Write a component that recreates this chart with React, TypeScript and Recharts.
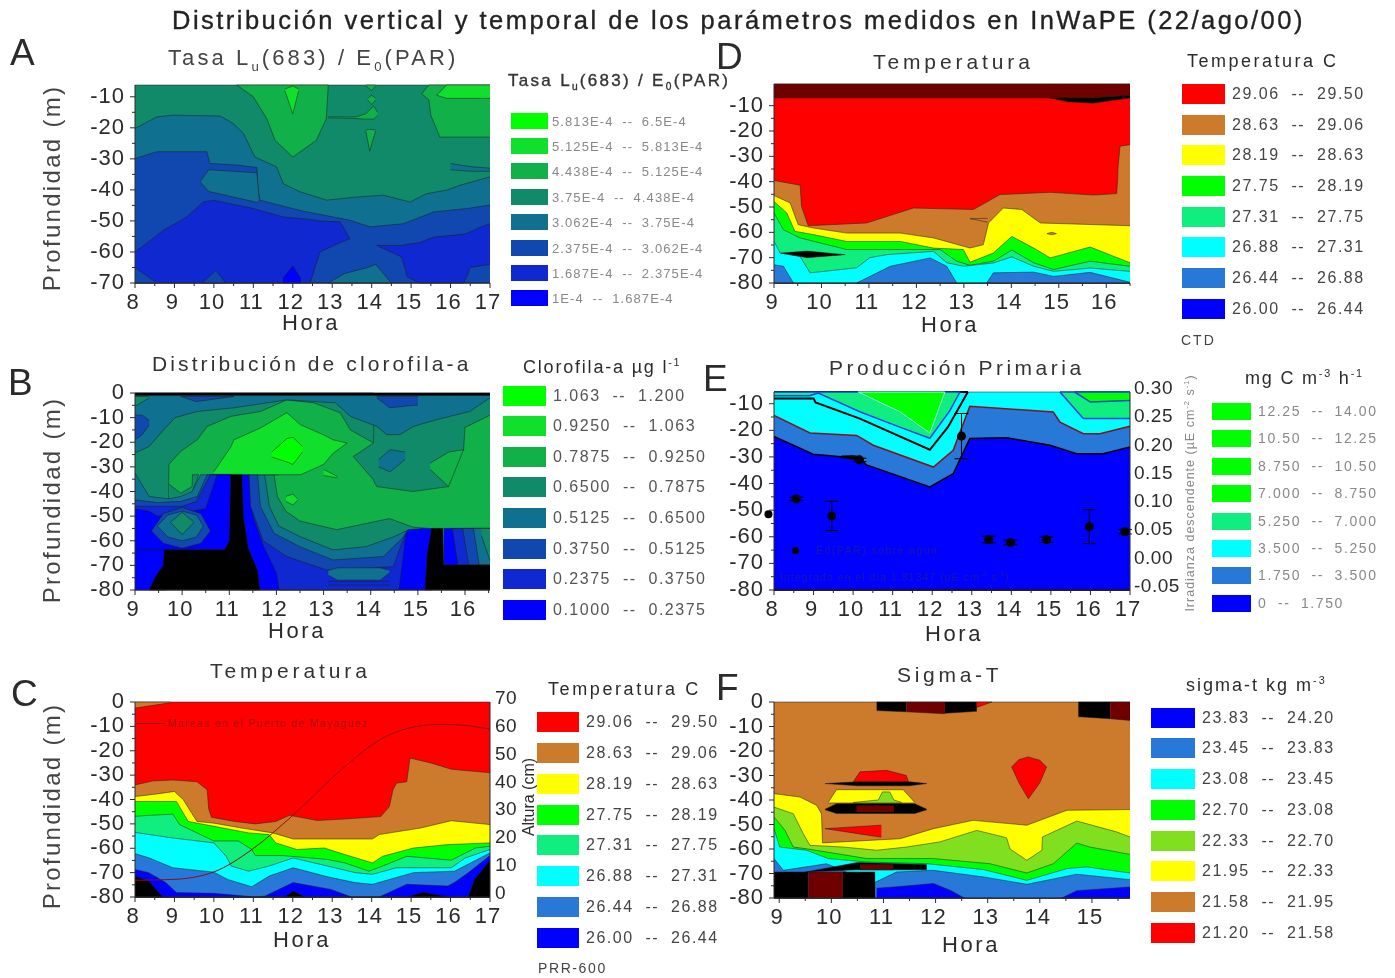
import React from "react";
import { ComposedChart, Area, Line, Scatter, ErrorBar, ReferenceDot, XAxis, YAxis } from "recharts";

const FONT = '"Liberation Sans", Arial, sans-serif';
const INK = "#2b2b2b";

const RED = "#ff0000";
const BROWN = "#cc7a2c";
const YELLOW = "#ffff00";
const LIME = "#80e020";
const GREEN = "#00ff00";
const MINT = "#10ee80";
const CYAN = "#00ffff";
const SKY = "#2878d8";
const BLUE = "#0000ff";
const BLACK = "#000000";
const MAROON = "#6e0000";
// green to blue ramp of panels A and B
const R1 = "#10e02c";
const R2 = "#12b048";
const R3 = "#108a68";
const R4 = "#107090";
const R5 = "#1048b0";
const R6 = "#1028d0";

type Band = { color: string; rows: { hour: number; range: number[] }[]; stroke?: string; strokeWidth?: number };

function band(color: string, hours: number[], top: number | number[], bottom: number | number[], stroke?: string, strokeWidth?: number): Band {
  const rows = hours.map((hour, i) => ({
    hour,
    range: [typeof bottom === "number" ? bottom : bottom[i], typeof top === "number" ? top : top[i]],
  }));
  return { color, rows, stroke, strokeWidth };
}

// ---------- Panel A ----------
const A_CEIL = -6.2;
const A_FLOOR = -70;
const A_UP_H = [10.58, 11, 11.34, 11.55, 12, 12.6, 12.85, 12.9];
const A_UP_B = [-6.2, -10, -17, -24, -29.4, -24, -17, -6.2];
const A_SPIKE_H = [11.8, 12, 12.15];
const A_SPIKE_T = [-7.5, -6.5, -7.5];
const A_SPIKE_B = [-8, -15.5, -8];
const A_STEM_H = [12.9, 13.6, 13.85, 14.05, 14.15];
const A_STEM_T = [-16.5, -16.5, -15.5, -13, -15];
const A_STEM_B = [-16.8, -17, -17.2, -17.2, -16];
const A_DOT1_H = [13.85, 14, 14.1];
const A_DOT1_T = [-6.2, -6.2, -6.2];
const A_DOT1_B = [-6.5, -8, -6.5];
const A_DOT2_H = [13.9, 14, 14.1];
const A_DOT2_T = [-10.5, -9.5, -10.5];
const A_DOT2_B = [-11, -12.5, -11];
const A_DOT3_H = [13.85, 13.95, 14.1];
const A_DOT3_T = [-20.7, -20.5, -20.7];
const A_DOT3_B = [-21, -27.5, -21];
const A_RIGHT_H = [15.27, 15.45, 15.5, 15.73, 17];
const A_RIGHT_T = [-9, -6.2, -6.2, -6.2, -6.2];
const A_RIGHT_B = [-9, -11, -16, -23, -23];
const A_BRIGHT_H = [15.65, 15.9, 17];
const A_BRIGHT_T = [-9.5, -6.2, -6.2];
const A_BRIGHT_B = [-9.5, -10.5, -10.5];
const A_TEAL_H = [8, 8.55, 8.97, 10.16, 10.49, 10.75, 11.04, 11.59, 11.76, 12.18, 12.86, 13.62, 14.3, 14.97, 15.4, 15.9, 16.24, 17];
const A_TEAL_T = [-20.2, -16.5, -15.9, -16.2, -18.6, -21.8, -29.4, -32.6, -38, -40.6, -43.3, -42.3, -41.7, -43.9, -41.2, -40.1, -38.5, -35.8];
const A_FINGER_H = [16, 16.5, 17];
const A_FINGER_T = [-31.5, -32.5, -33];
const A_FINGER_B = [-33.5, -34, -34];
const A_BLUE_H = [8, 8.55, 9.82, 9.9, 10.6, 11.09, 11.12, 11.17, 12.18, 13.45, 13.96, 14.8, 15.57, 16.41, 17];
const A_BLUE_T = [-29.9, -27.7, -27.7, -31.5, -32, -32.8, -40, -43.3, -46.6, -49.8, -51.9, -50.9, -47.1, -46, -44.9];
const A_WEDGE_H = [9.65, 9.87, 11.09, 11.15];
const A_WEDGE_T = [-37.4, -33.5, -34.5, -43];
const A_WEDGE_B = [-37.4, -40.5, -44, -43.5];
const A_LOBE_H = [8, 8.21, 8.72, 9.31, 9.73, 9.99, 11, 11.76, 12.44, 12.69, 13.2, 13.45];
const A_LOBE_T = [-60, -58, -53, -48.7, -43.9, -43.3, -46, -48.7, -49.5, -50, -50.3, -55.7];
const A_LOBE_B = [-70, -70, -70, -70, -70, -70, -70, -70, -70, -60, -57, -55.7];
const A_RLOBE_H = [14.13, 14.76, 14.9, 15.2, 15.57, 16.33, 16.41, 16.5, 16.75, 17];
const A_RLOBE_T = [-57.9, -57.9, -57.5, -57, -55.2, -54.3, -54, -53.5, -52, -50.9];
const A_RLOBE_B = [-57.9, -61.6, -68, -70, -70, -70, -68, -65, -64.5, -64];
const A_SPOT_H = [11.75, 12, 12.2];
const A_SPOT_T = [-68.5, -64.5, -68.5];
const A_PATCH_H = [8, 8.5];
const A_PATCH_T = [-65, -69.5];
const A_MID_H = [9.7, 10.05, 10.3];
const A_MID_T = [-70, -66, -70];
const A_FOOT_H = [12.9, 13.3, 13.9, 14.1, 14.5];
const A_FOOT_T = [-70, -67, -65, -64, -70];

const A_BANDS: Band[] = [
  band(R3, [8, 17], A_CEIL, A_FLOOR),
  band(R2, A_UP_H, A_CEIL, A_UP_B),
  band(R1, A_SPIKE_H, A_SPIKE_T, A_SPIKE_B),
  band(R2, A_STEM_H, A_STEM_T, A_STEM_B),
  band(R2, A_DOT1_H, A_DOT1_T, A_DOT1_B),
  band(R2, A_DOT2_H, A_DOT2_T, A_DOT2_B),
  band(R2, A_DOT3_H, A_DOT3_T, A_DOT3_B),
  band(R2, A_RIGHT_H, A_RIGHT_T, A_RIGHT_B),
  band(R1, A_BRIGHT_H, A_BRIGHT_T, A_BRIGHT_B),
  band(R4, A_TEAL_H, A_TEAL_T, A_FLOOR),
  band(R4, A_FINGER_H, A_FINGER_T, A_FINGER_B),
  band(R5, A_BLUE_H, A_BLUE_T, A_FLOOR),
  band(R4, A_WEDGE_H, A_WEDGE_T, A_WEDGE_B),
  band(R6, A_LOBE_H, A_LOBE_T, A_LOBE_B),
  band(R6, A_RLOBE_H, A_RLOBE_T, A_RLOBE_B),
  band(BLUE, A_SPOT_H, A_SPOT_T, A_FLOOR),
  band(R5, A_PATCH_H, A_PATCH_T, A_FLOOR),
  band(R5, A_MID_H, A_MID_T, A_FLOOR),
  band(R4, A_FOOT_H, A_FOOT_T, A_FLOOR),
];

// ---------- Panel B ----------
const B_FLOOR = -80;
const B_STACK_Q1_H = [9, 9.7, 9.72, 9.97, 10.32, 10.53, 11.03, 11.66, 12.22, 12.79, 13.35, 13.57, 14.06];
const B_STACK_Q1_B = [-60, -60, -29, -23.7, -19, -13.6, -9.5, -7.5, -2.8, -4, -8, -15, -20.3];
const B_RIGHT_H = [11.27, 15.3];
const B_C0_H = [11.41, 11.5, 11.72, 12, 12.06, 14.6, 14.76];
const B_C0_B = [-33.2, -50, -62, -73, -80, -80, -55];
const B_C1_H = [11.42, 11.45, 11.72, 12.22, 13.07, 14.48, 14.76];
const B_C1_B = [-33.2, -46, -60, -66.4, -71.9, -70.5, -55.6];
const B_C2_H = [11.6, 11.66, 11.95, 12.5, 13.2, 14.27, 14.7, 14.8];
const B_C2_B = [-33.2, -46, -57, -62.4, -67.8, -66.4, -58.3, -55];
const B_C3_H = [11.75, 11.85, 12.05, 12.5, 13.2, 13.9, 14.5, 14.8, 15.1];
const B_C3_B = [-33.2, -46, -54, -58.3, -63.7, -62.4, -58.3, -55.5, -55];
const B_TC_H = [11.95, 12.02, 12.2, 12.5, 13.28, 13.9, 14.4, 14.9, 15.26, 16.3, 16.53];
const B_TC_B = [-33.2, -42, -48, -52, -55.5, -53, -51, -54.5, -55, -55, -60];
const B_FOOT_H = [13.1, 13.3, 14.2, 14.4];
const B_FOOT_T = [-72, -71, -71, -72];
const B_FOOT_B = [-74, -76, -76, -73];
const B_PEN_H = [13.63, 14.06, 14.07, 14.13, 14.9, 15.65, 15.68, 15.97, 16, 16.53];
const B_PEN_T = [-25.8, -20.3, -1, -1, -1, -1, -1, -1, -1, -1];
const B_PEN_B = [-25.8, -35.3, -36, -38, -40, -38, -30, -23, -14, -9];
const B_NOOK_H = [15.26, 15.65, 15.97];
const B_NOOK_T = [-28.5, -24, -23];
const B_NOOK_B = [-31, -38, -23];
const B_CORE_H = [10.67, 11.03, 11.1, 11.66, 12.22, 12.51, 13, 13.2, 13.5];
const B_CORE_T = [-32, -22, -19, -14.2, -8, -12.9, -17, -19, -20.3];
const B_CORE_B = [-33, -33, -33, -33.2, -33.2, -33.2, -29, -24.5, -20.3];
const B_TAIL_H = [13, 13.3];
const B_TAIL_T = [-31, -34];
const B_TAIL_B = [-33.5, -34.5];
const B_HOT_H = [11.9, 12.22, 12.35, 12.55];
const B_HOT_T = [-24, -18.5, -18, -21.7];
const B_HOT_B = [-26, -28, -29, -24];
const B_DOT_H = [12.2, 12.35, 12.45];
const B_DOT_T = [-42, -41, -43];
const B_DOT_B = [-44, -45.5, -43.5];
const B_TOP_H = [9, 9.3, 9.61, 9.85, 10.32, 11.1, 12.22, 13.25, 13.57, 14.13, 14.34, 14.62, 14.9, 15.4, 16.1, 16.53];
const B_TOP_B = [-24.4, -21.7, -14.9, -10, -7.5, -6, -2.8, -4, -9.5, -13.6, -16.9, -16.9, -13.6, -10.8, -7.5, -2];
const B_CORNER_H = [9, 9.3];
const B_CORNER_B = [-5.4, -2];
const B_TONGUE_H = [9, 9.15, 9.3];
const B_TONGUE_T = [-9, -9, -11];
const B_TONGUE_B = [-19, -17, -13];
const B_CAP1_H = [9.97, 10.3, 11.1];
const B_CAP1_B = [-1.4, -3.5, -1.4];
const B_CAP2_H = [14.13, 14.4, 14.9, 15];
const B_CAP2_B = [-2, -6, -5, -5];
const B_INNER_H = [14.17, 14.41, 14.73];
const B_INNER_T = [-27, -23, -24];
const B_INNER_B = [-30, -32, -27];
const B_L1_H = [9, 9.3, 9.72, 9.97, 10.21, 10.39, 11.03];
const B_L1_T = [-32.5, -42, -43, -42, -40, -33.2, -33.2];
const B_GAP_H = [9.72, 9.97, 10.21, 10.22, 10.35];
const B_GAP_T = [-37, -40.7, -38, -33.2, -33.2];
const B_GAP_B = [-43, -44, -42, -40, -33.2];
const B_L2_H = [9, 9.47, 9.97, 10.32, 10.53, 11.03];
const B_L2_T = [-43.4, -44.5, -44, -42, -33.2, -33.2];
const B_L3_H = [9, 9.6, 10, 10.3, 10.6, 11.03];
const B_L3_T = [-46, -46, -46, -44, -33.2, -33.2];
const B_L4_H = [9, 9.3, 9.47, 10.5, 10.74, 11.03];
const B_L4_T = [-47, -48, -50, -47, -33.2, -33.2];
const B_RING_H = [9.35, 9.6, 10, 10.4, 10.6];
const B_RING_T = [-56, -49, -46.5, -49, -56];
const B_RING_B = [-56, -61, -63, -61, -56];
const B_RING2_H = [9.47, 9.7, 10, 10.3, 10.45];
const B_RING2_T = [-54, -49.5, -48, -49.5, -54];
const B_RING2_B = [-54, -58.5, -60, -58.5, -54];
const B_SPOT_H = [9.75, 10, 10.25];
const B_SPOT_T = [-52.5, -48.5, -52.5];
const B_SPOT_B = [-52.5, -57.5, -52.5];
const B_SPINE_H = [9.3, 9.45, 9.6, 9.62, 10.9, 11, 11.03, 11.27, 11.3, 11.4, 11.6, 11.65];
const B_SPINE_T = [-80, -74, -70, -63.7, -63.7, -60, -33.2, -33.2, -50, -63, -72, -80];
const B_LOW_H = [9, 9.65];
const B_RIB_H = [15.55, 16.53];
const B_RIB1_H = [15.73, 15.85, 16.53];
const B_RIB2_H = [15.95, 16.08, 16.53];
const B_RIB3_H = [16.18, 16.3, 16.53];
const B_RIB4_H = [16.35, 16.53];
const B_RIB_B = [-55, -69.8, -69.8];
const B_BLOCK_H = [15.15, 15.2, 15.29, 15.53, 15.55, 16.53];
const B_BLOCK_T = [-80, -65, -55, -55, -69.8, -69.8];

const B_BANDS: Band[] = [
  band(R2, [9, 16.53], 0, B_FLOOR),
  band(BLUE, B_RIGHT_H, -33.2, B_FLOOR),
  band(R6, B_C0_H, -33.2, B_C0_B),
  band(R5, B_C1_H, -33.2, B_C1_B),
  band(R6, B_FOOT_H, -76.5, -78),
  band(R4, B_FOOT_H, B_FOOT_T, B_FOOT_B),
  band(R4, B_C2_H, -33.2, B_C2_B),
  band(R3, B_C3_H, -33.2, B_C3_B),
  band(R2, B_TC_H, -33.2, B_TC_B),
  band(R2, [12.05, 16.53], -32.5, -34, "none"),
  band(R3, B_STACK_Q1_H, 0, B_STACK_Q1_B),
  band(R3, B_PEN_H, B_PEN_T, B_PEN_B),
  band(R2, B_NOOK_H, B_NOOK_T, B_NOOK_B),
  band(R1, B_CORE_H, B_CORE_T, B_CORE_B),
  band(R1, B_TAIL_H, B_TAIL_T, B_TAIL_B),
  band(GREEN, B_HOT_H, B_HOT_T, B_HOT_B),
  band(R1, B_DOT_H, B_DOT_T, B_DOT_B),
  band(R4, B_TOP_H, -1, B_TOP_B),
  band(R3, B_CORNER_H, -1.4, B_CORNER_B),
  band(R5, B_TONGUE_H, B_TONGUE_T, B_TONGUE_B),
  band(R5, B_CAP1_H, -1.4, B_CAP1_B),
  band(R5, B_CAP2_H, -1.4, B_CAP2_B),
  band(R4, B_INNER_H, B_INNER_T, B_INNER_B),
  band(R3, B_GAP_H, B_GAP_T, B_GAP_B),
  band(R4, B_L1_H, B_L1_T, -63.7),
  band(R5, B_L2_H, B_L2_T, -63.7),
  band(R6, B_L3_H, B_L3_T, -63.7),
  band(BLUE, B_L4_H, B_L4_T, -63.7),
  band(BLUE, B_LOW_H, -63.7, B_FLOOR),
  band(R5, B_RING_H, B_RING_T, B_RING_B),
  band(R4, B_RING2_H, B_RING2_T, B_RING2_B),
  band(R3, B_SPOT_H, B_SPOT_T, B_SPOT_B),
  band(BLACK, B_SPINE_H, B_SPINE_T, B_FLOOR),
  band(BLUE, B_RIB_H, -55, -69.8),
  band(R6, B_RIB1_H, -55, B_RIB_B),
  band(R5, B_RIB2_H, -55, B_RIB_B),
  band(R4, B_RIB3_H, -55, B_RIB_B),
  band(R3, B_RIB4_H, -55, [-58, -68]),
  band(BLACK, B_BLOCK_H, B_BLOCK_T, B_FLOOR),
  band(BLACK, [9, 16.53], 0, -0.9),
];

// ---------- Panel C ----------
const C_FLOOR = -80;
const C_BROWN_H = [8, 8.44, 8.96, 9.57, 9.83, 9.87, 9.94, 10.53, 11.05, 11.57, 11.92, 12.62, 13.32, 14.23, 14.45, 14.54, 14.63, 14.89, 14.97, 15.5, 16.02, 17];
const C_BROWN_T = [-34, -32.4, -32, -32.7, -36, -44, -47.3, -49, -50, -49, -46.5, -48.6, -48, -47, -42.9, -36, -33.3, -32.7, -23, -25, -27.6, -29];
const C_SLIVER_H = [8, 8.9];
const C_SLIVER_B = [-2.5, -0.3];
const C_YELLOW_H = [8, 8.52, 9, 9.22, 9.57, 10, 10.7, 11.49, 12.01, 14.02, 14.19, 15.24, 16.02, 17];
const C_YELLOW_T = [-38.8, -37.8, -36.7, -40, -49, -49.7, -51.7, -53.7, -56.2, -56.2, -54.4, -51.7, -48.7, -50.3];
const C_GREEN_H = [8, 9.05, 9.35, 10, 10.88, 11.4, 11.57, 12.1, 12.8, 13.32, 14.02, 14.28, 15.06, 15.93, 17];
const C_GREEN_T = [-40.8, -40.8, -49, -51, -53.7, -54.4, -57.8, -60.5, -59.9, -62.6, -66, -63.3, -59.9, -58.5, -57.8];
const C_MINT_H = [8, 8.35, 8.96, 9.13, 10, 10.62, 10.96, 11.05, 11.75, 12.1, 12.88, 13.32, 13.93, 14.28, 14.89, 16.02, 16.63, 17];
const C_MINT_T = [-46.9, -46.5, -46, -50.3, -57, -57, -60.5, -63, -63, -63.5, -64.6, -66, -69.4, -67.3, -63.3, -64.9, -59.9, -59.2];
const C_CYAN_H = [8, 8.96, 10, 10.31, 10.44, 10.88, 11.4, 12.01, 12.88, 13.58, 14.02, 14.63, 16.02, 16.37, 17];
const C_CYAN_T = [-53.5, -55.8, -57.8, -63.3, -67.3, -69.4, -67.3, -64, -67.3, -70, -70.7, -68, -68, -64, -60.5];
const C_SKY_H = [8, 8.35, 8.96, 10, 10.35, 10.96, 11.4, 12.01, 12.88, 13.58, 14.02, 15.06, 16.1, 17];
const C_SKY_T = [-62.2, -63.9, -68, -69.8, -72.8, -75.8, -71.4, -68, -71.7, -74.1, -74.8, -70, -69.4, -61.9];
const C_BLUE_H = [8, 8.35, 8.78, 9.05, 10, 11.05, 11.3, 12.01, 12.97, 13.49, 14.19, 14.89, 15.93, 16.1, 16.45, 17];
const C_BLUE_T = [-68.7, -70, -74.1, -78.2, -78.5, -80, -79.6, -74.1, -76.9, -80, -80, -74.8, -75.5, -74, -70, -63];
const C_BLK1_H = [8, 8.35, 8.7];
const C_BLK1_T = [-71.4, -73.5, -80];
const C_BLK2_H = [11.8, 12.01, 12.3];
const C_BLK2_T = [-80, -77.5, -80];
const C_BLK3_H = [16.45, 16.6, 17];
const C_BLK3_T = [-80, -73, -65];
const C_BLK4_H = [14.9, 15.3, 15.95];
const C_BLK4_T = [-80, -78, -80];
// tide at the Mayaguez port, right axis (cm)
const C_TIDE_H = [8, 8.96, 10, 10.96, 12, 13.32, 14.19, 15.06, 15.76, 16.37, 17];
const C_TIDE = [6, 6.3, 9, 17, 29.3, 46.8, 56.3, 61, 62, 61.6, 60.2];

const C_BANDS: Band[] = [
  band(RED, [8, 17], 0, C_FLOOR),
  band(BROWN, C_SLIVER_H, 0, C_SLIVER_B),
  band(BROWN, C_BROWN_H, C_BROWN_T, C_FLOOR),
  band(YELLOW, C_YELLOW_H, C_YELLOW_T, C_FLOOR),
  band(GREEN, C_GREEN_H, C_GREEN_T, C_FLOOR),
  band(MINT, C_MINT_H, C_MINT_T, C_FLOOR),
  band(CYAN, C_CYAN_H, C_CYAN_T, C_FLOOR),
  band(SKY, C_SKY_H, C_SKY_T, C_FLOOR),
  band(BLUE, C_BLUE_H, C_BLUE_T, C_FLOOR),
  band(BLACK, C_BLK1_H, C_BLK1_T, C_FLOOR),
  band(BLACK, C_BLK2_H, C_BLK2_T, C_FLOOR),
  band(BLACK, C_BLK3_H, C_BLK3_T, C_FLOOR),
  band(BLACK, C_BLK4_H, C_BLK4_T, C_FLOOR),
];

// ---------- Panel D ----------
const D_CEIL = -1.45;
const D_FLOOR = -80;
const D_CAP_H = [9, 14.82, 15.2, 15.73, 16.1, 16.5];
const D_CAP_B = [-7, -7, -7, -7, -6.5, -6];
const D_CAPB_H = [14.82, 15.2, 15.73, 16.1, 16.5];
const D_CAPB_T = [-7, -7, -7, -6.5, -6];
const D_CAPB_B = [-7, -8.5, -9, -8, -7];
const D_BROWN_H = [9, 9.55, 9.58, 9.72, 10.95, 11.94, 13.2, 13.76, 14.82, 15.73, 16.22, 16.24, 16.25, 16.29, 16.5];
const D_BROWN_T = [-39.5, -41.4, -49.7, -57.4, -56.3, -50.4, -51, -45.1, -44.2, -45.3, -44.7, -39, -34, -26, -25.4];
const D_YELLOW_H = [9, 9.34, 9.51, 9.83, 10.53, 11.66, 12.36, 13.13, 13.41, 13.52, 13.83, 14.22, 14.61, 16.5];
const D_YELLOW_T = [-45.5, -48.4, -57, -58.3, -60.3, -60.3, -62.2, -66.2, -64.9, -56.3, -50.4, -51, -56.3, -57.4];
const D_WEDGE_H = [13.13, 13.5];
const D_WEDGE_T = [-54.6, -54.5];
const D_WEDGE_B = [-54.6, -56];
const D_DOT_H = [14.75, 14.85, 14.95];
const D_DOT_T = [-60.5, -60, -60.5];
const D_DOT_B = [-60.5, -61, -60.5];
const D_GREEN_H = [9, 9.27, 9.44, 9.83, 10.53, 11.66, 12.36, 12.99, 13.13, 13.62, 14.01, 14.47, 14.82, 15.66, 16.5];
const D_GREEN_T = [-47.8, -52.4, -59.6, -60.9, -63.6, -63.6, -66.2, -66.8, -71.8, -68.2, -61.6, -66.2, -70.1, -65.8, -72];
const D_MINT_H = [9, 9.2, 9.55, 10.53, 11.66, 12.5, 12.85, 13.13, 13.62, 14.01, 14.47, 14.89, 15.66, 16.5];
const D_MINT_T = [-52.4, -59, -62.2, -66.8, -66.8, -66.8, -71.4, -73, -71.4, -67, -72, -74.7, -71.4, -73.4];
const D_CYAN_H = [9, 9.13, 9.55, 9.76, 10.74, 11.02, 11.38, 12.36, 12.64, 12.99, 13.62, 14.01, 14.47, 14.89, 15.66, 16.5];
const D_CYAN_T = [-63.5, -68.2, -69.5, -76, -74, -70, -68.8, -67.5, -72, -73.4, -72.1, -69.7, -73.4, -75.4, -74.1, -75.4];
const D_LENS_H = [9.15, 9.7, 10.5];
const D_LENS_T = [-68.2, -67.4, -68.8];
const D_LENS_B = [-68.2, -70, -68.8];
const D_SKY1_H = [9, 9.2, 9.41];
const D_SKY1_T = [-72.8, -73.4, -80];
const D_SKY2_H = [10.74, 11.45, 12.29, 12.64, 12.85];
const D_SKY2_T = [-80, -73.4, -70.1, -73.4, -80];
const D_SKY3_H = [13.48, 13.62, 14.47, 14.89, 15.66, 16.5];
const D_SKY3_T = [-80, -76, -75.7, -77.4, -75.8, -79.7];

const D_BANDS: Band[] = [
  band(RED, [9, 16.5], D_CEIL, D_FLOOR),
  band(MAROON, D_CAP_H, D_CEIL, D_CAP_B),
  band(BLACK, D_CAPB_H, D_CAPB_T, D_CAPB_B),
  band(BROWN, D_BROWN_H, D_BROWN_T, D_FLOOR),
  band(YELLOW, D_YELLOW_H, D_YELLOW_T, D_FLOOR),
  band(BROWN, D_WEDGE_H, D_WEDGE_T, D_WEDGE_B),
  band(BROWN, D_DOT_H, D_DOT_T, D_DOT_B),
  band(GREEN, D_GREEN_H, D_GREEN_T, D_FLOOR),
  band(MINT, D_MINT_H, D_MINT_T, D_FLOOR),
  band(CYAN, D_CYAN_H, D_CYAN_T, D_FLOOR),
  band(BLACK, D_LENS_H, D_LENS_T, D_LENS_B),
  band(SKY, D_SKY1_H, D_SKY1_T, D_FLOOR),
  band(SKY, D_SKY2_H, D_SKY2_T, D_FLOOR),
  band(SKY, D_SKY3_H, D_SKY3_T, D_FLOOR),
];

// ---------- Panel E ----------
const E_CEIL = -5.6;
const E_FLOOR = -80;
const E_V1_H = [8, 9, 9.05, 10.17, 11.94, 12.4, 12.9];
const E_V1_B = [-8, -8, -9.5, -15.6, -27.3, -18.75, -5.6];
const E_V2_H = [8, 8.9, 9.12, 10.17, 11.18, 11.94, 12.45, 12.7];
const E_V2_B = [-7, -7, -6, -13, -18.8, -23, -12.5, -5.6];
const E_V3_H = [10.13, 11.18, 11.94, 12.32];
const E_V3_B = [-5.6, -13, -21, -5.6];
const E_R1_H = [15.23, 15.82, 17];
const E_R1_B = [-5.6, -15.6, -15.6];
const E_R2_H = [15.6, 16, 17];
const E_R2_B = [-5.6, -9.4, -8.75];
const E_SKY_H = [8, 8.91, 10.09, 10.51, 12.03, 12.53, 12.95, 15.06, 15.23, 15.82, 16.24, 17];
const E_SKY_T = [-14.4, -21, -21.9, -25.6, -33.8, -27.5, -11, -13.1, -16.9, -21.3, -21.3, -18.5];
const E_BLUE_H = [8, 8.99, 10.17, 10.34, 11.94, 12.53, 12.95, 13.88, 14.98, 15.65, 16.32, 17];
const E_BLUE_T = [-22.3, -29, -30.6, -33, -41.3, -36.3, -23.1, -22.8, -25.6, -28.8, -28.8, -26.3];
const E_BLOB_H = [9.7, 10, 10.2];
const E_BLOB_T = [-29.6, -29.4, -29.8];
const E_BLOB_B = [-30.4, -31, -31.6];
// irradiance over water, right axis
const E_PT_H = [8.56, 9.46, 10.16, 12.74, 13.43, 13.98, 14.89, 15.97, 16.87];
const E_PT_IRR = [0.111, 0.081, 0.18, 0.222, 0.039, 0.034, 0.039, 0.062, 0.053];
const E_PT_ERR = [0.003, 0.026, 0.003, 0.04, 0.006, 0.004, 0.005, 0.03, 0.004];
// this reading sits just left of the 8 h axis line in the reference
const E_EARLY_H = 7.86;
const E_EARLY_IRR = 0.084;

const E_BANDS: Band[] = [
  band(CYAN, [8, 17], E_CEIL, E_FLOOR),
  band(CYAN, E_V1_H, E_CEIL, E_V1_B, BLACK, 2),
  band(MINT, E_V2_H, E_CEIL, E_V2_B, "#2040e0", 1.5),
  band(GREEN, E_V3_H, E_CEIL, E_V3_B, "#90ffe0", 1),
  band(MINT, E_R1_H, E_CEIL, E_R1_B, "#2040e0", 1.5),
  band(GREEN, E_R2_H, E_CEIL, E_R2_B, "#2040e0", 1.5),
  band(SKY, E_SKY_H, E_SKY_T, E_FLOOR, "#8a1020", 1.5),
  band(BLUE, E_BLUE_H, E_BLUE_T, E_FLOOR, BLACK, 1.5),
  band(BLACK, E_BLOB_H, E_BLOB_T, E_BLOB_B),
];

// ---------- Panel F ----------
const F_FLOOR = -80;
const F_YELLOW_H = [8.9, 9.4, 9.72, 9.81, 9.82, 9.83, 11.32, 11.96, 12.72, 13.75, 14.52, 15.73];
const F_YELLOW_T = [-37.4, -38.8, -42.2, -45.6, -51, -57.5, -55.8, -51.7, -48.3, -50.3, -44.2, -43.9];
const F_LIME_H = [8.9, 9.27, 9.46, 9.59, 10.23, 10.87, 11.44, 12.08, 12.79, 13.36, 13.43, 13.75, 14.04, 14.05, 14.71, 15.47, 15.73];
const F_LIME_T = [-42.9, -45.6, -53.7, -58.5, -59.2, -60.5, -59.2, -57.1, -52.4, -55.4, -60, -64.6, -60.5, -55.1, -48.6, -53, -55.1];
const F_GREEN_H = [8.9, 9.11, 9.27, 9.52, 10.68, 11.96, 13.04, 13.75, 14.26, 14.71, 14.96, 15.73];
const F_GREEN_T = [-46.9, -52.4, -59.2, -59.9, -63.9, -63.9, -66, -69.8, -66, -57.6, -59.2, -62.2];
const F_CYAN_H = [8.9, 9.01, 9.52, 9.94, 10.68, 11.83, 12.92, 13.75, 14.52, 14.9, 15.73];
const F_CYAN_T = [-51.7, -59.2, -60.5, -63.9, -65.3, -66, -68.4, -72.8, -68, -67.3, -69.8];
const F_SKY_H = [8.9, 9.08, 9.91, 10.8, 11.25, 11.96, 12.92, 13.75, 14.71, 15.73];
const F_SKY_T = [-63.9, -68.7, -66, -74, -69.4, -68.7, -71.4, -74.4, -70.3, -72.5];
const F_DEEP1_H = [10.87, 11.2, 11.96, 12.3, 12.55];
const F_DEEP1_T = [-76, -75.5, -74.1, -77, -80];
const F_DEEP2_H = [14.42, 14.71, 15.73];
const F_DEEP2_T = [-80, -77, -75.5];
const F_TOPA_H = [10.87, 11.44];
const F_TOPA_B = [-3.5, -4];
const F_TOPB_H = [11.44, 12.18];
const F_TOPB_B = [-4, -4.8];
const F_TOPC_H = [12.18, 12.79];
const F_TOPC_B = [-4.6, -3.8];
const F_TOPD_H = [12.79, 13.08];
const F_TOPD_B = [-2.2, 0];
const F_TOPE_H = [14.74, 15.35];
const F_TOPE_B = [-6, -6.8];
const F_TOPF_H = [15.35, 15.73];
const F_TOPF_B = [-6.8, -7.5];
const F_SL_H = [9.5, 10.5, 11.83];
const F_SL_T = [-69.4, -65.5, -66.3];
const F_SL_B = [-69.4, -68.5, -68.5];
const F_SLR_H = [10.55, 11.19];
const F_LENS_H = [10.42, 10.55, 11.06, 11.44, 11.48];
const F_LENS_T = [-32.6, -28.5, -27.9, -30, -32.6];
const F_BL1_H = [9.88, 10.5, 11.5, 11.83];
const F_BL1_T = [-33.3, -32.6, -32.6, -33.3];
const F_BL1_B = [-33.3, -34.2, -34.2, -33.3];
const F_TRAP_H = [9.94, 10.1, 11.38, 11.6];
const F_TRAP_T = [-41, -35.8, -35.8, -41];
const F_SPIKE_H = [10.42, 10.9, 10.98, 11.12, 11.2, 11.35];
const F_SPIKE_T = [-41, -40, -36.7, -36.7, -40, -41];
const F_BL2_H = [9.88, 10.1, 11.6, 11.83];
const F_BL2_T = [-43.8, -41.5, -41.5, -43.8];
const F_BL2_B = [-44, -45.5, -45.5, -44];
const F_BL2R_H = [10.48, 11.2];
const F_TAIL_H = [9.88, 10.93, 10.96];
const F_TAIL_T = [-51.7, -50.3, -50.3];
const F_TAIL_B = [-51.7, -55.1, -55.1];
const F_DROP_H = [13.46, 13.6, 13.78, 14, 14.13];
const F_DROP_T = [-26.5, -23.5, -22.4, -23.8, -26.5];
const F_DROP_B = [-26.5, -33, -39.5, -33, -26.5];

const F_BANDS: Band[] = [
  band(BROWN, [8.9, 15.73], 0, F_FLOOR),
  band(YELLOW, F_YELLOW_H, F_YELLOW_T, F_FLOOR),
  band(LIME, F_LIME_H, F_LIME_T, F_FLOOR),
  band(GREEN, F_GREEN_H, F_GREEN_T, F_FLOOR),
  band(CYAN, F_CYAN_H, F_CYAN_T, F_FLOOR),
  band(SKY, F_SKY_H, F_SKY_T, F_FLOOR),
  band(BLUE, F_DEEP1_H, F_DEEP1_T, F_FLOOR),
  band(BLUE, F_DEEP2_H, F_DEEP2_T, F_FLOOR),
  band(BLACK, F_TOPA_H, 0, F_TOPA_B),
  band(MAROON, F_TOPB_H, 0, F_TOPB_B),
  band(BLACK, F_TOPC_H, 0, F_TOPC_B),
  band(RED, F_TOPD_H, 0, F_TOPD_B),
  band(BLACK, F_TOPE_H, 0, F_TOPE_B),
  band(MAROON, F_TOPF_H, 0, F_TOPF_B),
  band(BLACK, F_SL_H, F_SL_T, F_SL_B),
  band(MAROON, F_SLR_H, -66.2, -68.5),
  band(BLACK, [8.9, 9.56], -69.4, F_FLOOR),
  band(MAROON, [9.56, 10.22], -69.4, F_FLOOR),
  band(BLACK, [10.22, 10.84], -69.4, F_FLOOR),
  band(RED, F_LENS_H, F_LENS_T, -32.6),
  band(BLACK, F_BL1_H, F_BL1_T, F_BL1_B),
  band(YELLOW, F_TRAP_H, F_TRAP_T, -41.2),
  band(LIME, F_SPIKE_H, F_SPIKE_T, -41.2),
  band(BLACK, F_BL2_H, F_BL2_T, F_BL2_B),
  band(MAROON, F_BL2R_H, -42.2, -44.9),
  band(RED, F_TAIL_H, F_TAIL_T, F_TAIL_B),
  band(RED, F_DROP_H, F_DROP_T, F_DROP_B),
];

// ---------- Legends ----------
const RAMP_COLORS = [GREEN, R1, R2, R3, R4, R5, R6, BLUE];
const TEMP_COLORS = [RED, BROWN, YELLOW, GREEN, MINT, CYAN, SKY, BLUE];
const PROD_COLORS = [GREEN, GREEN, GREEN, GREEN, MINT, CYAN, SKY, BLUE];
const SIGMA_COLORS = [BLUE, SKY, CYAN, GREEN, LIME, YELLOW, BROWN, RED];
const A_LABELS = ["5.813E-4 -- 6.5E-4", "5.125E-4 -- 5.813E-4", "4.438E-4 -- 5.125E-4", "3.75E-4 -- 4.438E-4", "3.062E-4 -- 3.75E-4", "2.375E-4 -- 3.062E-4", "1.687E-4 -- 2.375E-4", "1E-4 -- 1.687E-4"];
const B_LABELS = ["1.063 -- 1.200", "0.9250 -- 1.063", "0.7875 -- 0.9250", "0.6500 -- 0.7875", "0.5125 -- 0.6500", "0.3750 -- 0.5125", "0.2375 -- 0.3750", "0.1000 -- 0.2375"];
const TEMP_LABELS = ["29.06 -- 29.50", "28.63 -- 29.06", "28.19 -- 28.63", "27.75 -- 28.19", "27.31 -- 27.75", "26.88 -- 27.31", "26.44 -- 26.88", "26.00 -- 26.44"];
const E_LABELS = ["12.25 -- 14.00", "10.50 -- 12.25", "8.750 -- 10.50", "7.000 -- 8.750", "5.250 -- 7.000", "3.500 -- 5.250", "1.750 -- 3.500", "0 -- 1.750"];
const F_LABELS = ["23.83 -- 24.20", "23.45 -- 23.83", "23.08 -- 23.45", "22.70 -- 23.08", "22.33 -- 22.70", "21.95 -- 22.33", "21.58 -- 21.95", "21.20 -- 21.58"];

const HOURS_8_17 = [8, 8.5, 9, 9.5, 10, 10.5, 11, 11.5, 12, 12.5, 13, 13.5, 14, 14.5, 15, 15.5, 16, 16.5, 17];
const HOURS_9_16 = [9, 9.5, 10, 10.5, 11, 11.5, 12, 12.5, 13, 13.5, 14, 14.5, 15, 15.5, 16, 16.5];
const HOURS_9_15 = [9, 9.5, 10, 10.5, 11, 11.5, 12, 12.5, 13, 13.5, 14, 14.5, 15, 15.5];
const DEPTHS_70 = [-70, -65, -60, -55, -50, -45, -40, -35, -30, -25, -20, -15, -10];
const DEPTHS_80 = [-80, -75, -70, -65, -60, -55, -50, -45, -40, -35, -30, -25, -20, -15, -10, -5, 0];
const DEPTHS_80_10 = [-80, -75, -70, -65, -60, -55, -50, -45, -40, -35, -30, -25, -20, -15, -10];
const TIDE_TICKS = [0, 10, 20, 30, 40, 50, 60, 70];
const IRR_TICKS = [-0.05, 0, 0.05, 0.1, 0.15, 0.2, 0.25, 0.3];

function XTick({ x, y, payload }: any) {
  const major = Number.isInteger(payload.value);
  return (
    <g>
      <line x1={x} x2={x} y1={y} y2={y + (major ? 5 : 3)} stroke={INK} strokeWidth={1} />
      {major && (
        <text x={x - 2} y={y + 26} textAnchor="middle" fontSize={22} fontFamily={FONT} fill={INK} letterSpacing={1}>
          {payload.value}
        </text>
      )}
    </g>
  );
}

function YTick({ x, y, payload }: any) {
  const major = payload.value % 10 === 0;
  return (
    <g>
      <line x1={x} x2={x - (major ? 5 : 3)} y1={y} y2={y} stroke={INK} strokeWidth={1} />
      {major && (
        <text x={x - 10} y={y + 6} textAnchor="end" fontSize={22} fontFamily={FONT} fill={INK} letterSpacing={1}>
          {payload.value}
        </text>
      )}
    </g>
  );
}

function RightTick({ x, y, payload }: any) {
  return (
    <text x={x + 5} y={y + 2} textAnchor="start" fontSize={19} fontFamily={FONT} fill={INK} letterSpacing={0.5}>
      {payload.value}
    </text>
  );
}

function IrrTick({ x, y, payload }: any) {
  return (
    <text x={x + 4} y={y + 2} textAnchor="start" fontSize={19} fontFamily={FONT} fill={INK} letterSpacing={0.5}>
      {payload.value.toFixed(2)}
    </text>
  );
}

type PanelProps = {
  left: number;
  top: number;
  width: number;
  height: number;
  xDomain: number[];
  yDomain: number[];
  xTicks: number[];
  yTicks: number[];
  bands: Band[];
  rightDomain?: number[];
  rightTicks?: number[];
  rightTick?: any;
  rightKey?: string;
  children?: React.ReactNode;
};

function Panel({ left, top, width, height, xDomain, yDomain, xTicks, yTicks, bands, rightDomain, rightTicks, rightTick, rightKey, children }: PanelProps) {
  const hasRight = !!rightDomain;
  return (
    <div style={{ position: "absolute", left: left - 80, top: top - 20 }}>
      <ComposedChart
        width={width + 140}
        height={height + 70}
        margin={{ top: 20, right: hasRight ? 0 : 60, bottom: 10, left: 0 }}
      >
        <XAxis
          type="number"
          dataKey="hour"
          domain={xDomain}
          ticks={xTicks}
          interval={0}
          tick={<XTick />}
          tickSize={0}
          tickMargin={0}
          tickLine={false}
          height={40}
          stroke={INK}
        />
        <YAxis
          type="number"
          yAxisId="left"
          domain={yDomain}
          ticks={yTicks}
          interval={0}
          tick={<YTick />}
          tickSize={0}
          tickMargin={0}
          tickLine={false}
          width={80}
          stroke={INK}
        />
        {hasRight && (
          <YAxis
            type="number"
            yAxisId="right"
            orientation="right"
            dataKey={rightKey}
            domain={rightDomain}
            ticks={rightTicks}
            interval={0}
            tick={rightTick}
            tickSize={0}
            tickMargin={0}
            tickLine={false}
            width={60}
            stroke={INK}
          />
        )}
        {bands.map((b, i) => (
          <Area
            key={i}
            yAxisId="left"
            data={b.rows}
            dataKey="range"
            type="linear"
            fill={b.color}
            fillOpacity={1}
            stroke={b.stroke ?? "#1a1a1a"}
            strokeWidth={b.strokeWidth ?? 0.7}
            strokeOpacity={b.stroke ? 1 : 0.7}
            dot={false}
            activeDot={false}
            isAnimationActive={false}
          />
        ))}
        {children}
      </ComposedChart>
    </div>
  );
}

function Txt({ x, y, size, children, color = INK, spacing = 0, wordSpacing = 0, heavy = false, rotate }: any) {
  return (
    <div
      style={{
        position: "absolute",
        left: x,
        top: y,
        fontSize: size,
        lineHeight: 1,
        color,
        letterSpacing: spacing,
        wordSpacing,
        WebkitTextStroke: heavy ? "0.35px" : undefined,
        whiteSpace: "nowrap",
        transform: rotate ? "translate(-50%,-50%) rotate(-90deg)" : "translateY(-50%)",
      }}
    >
      {children}
    </div>
  );
}

function Key({ colors, labels, rows, x, w, h, textX, size, color, spacing, wordSpacing }: any) {
  return (
    <>
      {labels.map((label: string, i: number) => (
        <React.Fragment key={label}>
          <div style={{ position: "absolute", left: x, top: rows[i] - h / 2, width: w, height: h, background: colors[i] }} />
          <Txt x={textX} y={rows[i]} size={size} color={color} spacing={spacing} wordSpacing={wordSpacing}>
            {label}
          </Txt>
        </React.Fragment>
      ))}
    </>
  );
}

const tideRows = C_TIDE_H.map((hour, i) => ({ hour, tide: C_TIDE[i] }));
const irrRows = E_PT_H.map((hour, i) => ({ hour, irr: E_PT_IRR[i], err: E_PT_ERR[i] }));
const smallSub = { fontSize: "0.6em" };

export default function App() {
  return (
    <div style={{ position: "absolute", left: 0, top: 0, width: 1395, height: 978, background: "#fff", fontFamily: FONT, overflow: "hidden", filter: "blur(0.5px)" }}>
      <Txt x={172} y={21} size={25.5} spacing={2.48} color="#222" heavy>
        Distribución vertical y temporal de los parámetros medidos en InWaPE (22/ago/00)
      </Txt>

      <Panel left={135} top={85} width={355} height={198} xDomain={[8, 17]} yDomain={[A_FLOOR, A_CEIL]} xTicks={HOURS_8_17} yTicks={DEPTHS_70} bands={A_BANDS} />
      <Panel left={135} top={393} width={355} height={197} xDomain={[9, 16.53]} yDomain={[B_FLOOR, 0]} xTicks={HOURS_9_16} yTicks={DEPTHS_80} bands={B_BANDS} />
      <Panel left={135} top={702} width={355} height={195} xDomain={[8, 17]} yDomain={[C_FLOOR, 0]} xTicks={HOURS_8_17} yTicks={DEPTHS_80} bands={C_BANDS} rightDomain={[0, 70]} rightTicks={TIDE_TICKS} rightTick={<RightTick />}>
        <Line yAxisId="right" data={tideRows} dataKey="tide" type="monotone" stroke="#8a1010" strokeWidth={1} dot={false} activeDot={false} isAnimationActive={false} />
      </Panel>
      <Panel left={774} top={84} width={356} height={199} xDomain={[9, 16.5]} yDomain={[D_FLOOR, D_CEIL]} xTicks={HOURS_9_16} yTicks={DEPTHS_80_10} bands={D_BANDS} />
      <Panel left={774} top={392} width={356} height={198} xDomain={[8, 17]} yDomain={[E_FLOOR, E_CEIL]} xTicks={HOURS_8_17} yTicks={DEPTHS_80_10} bands={E_BANDS} rightDomain={[-0.05, 0.3]} rightTicks={IRR_TICKS} rightTick={<IrrTick />} rightKey="irr">
        <Scatter yAxisId="right" data={irrRows} dataKey="irr" fill="#000" isAnimationActive={false}>
          <ErrorBar dataKey="err" direction="y" width={7} stroke="#000" strokeWidth={1} />
        </Scatter>
        <ReferenceDot yAxisId="right" x={E_EARLY_H} y={E_EARLY_IRR} r={4} fill="#000" stroke="none" ifOverflow="visible" />
      </Panel>
      <Panel left={774} top={702} width={356} height={196} xDomain={[8.9, 15.73]} yDomain={[F_FLOOR, 0]} xTicks={HOURS_9_15} yTicks={DEPTHS_80} bands={F_BANDS} />

      <Txt x={10} y={52} size={37}>A</Txt>
      <Txt x={8} y={382} size={37}>B</Txt>
      <Txt x={11} y={693} size={37}>C</Txt>
      <Txt x={716} y={56} size={37}>D</Txt>
      <Txt x={703} y={378} size={37}>E</Txt>
      <Txt x={716} y={687} size={37}>F</Txt>

      <Txt x={168} y={60} size={22} spacing={3.1} color="#444">
        Tasa L<sub style={smallSub}>u</sub>(683) / E<sub style={smallSub}>0</sub>(PAR)
      </Txt>
      <Txt x={152} y={363} size={21} spacing={3.1} color="#333">Distribución de clorofila-a</Txt>
      <Txt x={210} y={670} size={21} spacing={3.9} color="#333">Temperatura</Txt>
      <Txt x={873} y={61} size={21} spacing={3.9} color="#333">Temperatura</Txt>
      <Txt x={829} y={367} size={21} spacing={3.5} color="#333">Producción Primaria</Txt>
      <Txt x={897} y={674} size={21} spacing={3.7} color="#333">Sigma-T</Txt>

      <Txt x={282} y={323} size={22} spacing={2.6}>Hora</Txt>
      <Txt x={268} y={631} size={22} spacing={2.6}>Hora</Txt>
      <Txt x={273} y={940} size={22} spacing={2.6}>Hora</Txt>
      <Txt x={921} y={325} size={22} spacing={2.6}>Hora</Txt>
      <Txt x={925} y={634} size={22} spacing={2.6}>Hora</Txt>
      <Txt x={942} y={945} size={22} spacing={2.6}>Hora</Txt>

      <Txt x={52} y={188} size={24} spacing={2.3} rotate color="#444">Profundidad (m)</Txt>
      <Txt x={52} y={500} size={24} spacing={2.3} rotate color="#444">Profundidad (m)</Txt>
      <Txt x={52} y={806} size={24} spacing={2.3} rotate color="#444">Profundidad (m)</Txt>
      <Txt x={529} y={797} size={16} rotate>Altura (cm)</Txt>
      <Txt x={1190} y={493} size={12.5} spacing={1} rotate color="#888">
        Irradianza descendente (µE cm<sup style={smallSub}>-2</sup> s<sup style={smallSub}>-1</sup>)
      </Txt>

      <Txt x={168} y={723} size={10.5} spacing={1.3} color="#a01010">Mareas en el Puerto de Mayaguez</Txt>
      <div style={{ position: "absolute", left: 135, top: 723, width: 30, height: 1, background: "#8a1010" }} />
      <div style={{ position: "absolute", left: 792, top: 547, width: 7, height: 7, borderRadius: 4, background: "#000" }} />
      <Txt x={816} y={550} size={11} spacing={1.2} color="#1818a8">Ed(PAR) sobre agua</Txt>
      <Txt x={780} y={577} size={11} spacing={0.8} color="#1818a8">
        Integrado en el día 1.81347 (µE cm<sup style={smallSub}>-2</sup> s<sup style={smallSub}>-1</sup>)
      </Txt>

      <Txt x={508} y={82} size={17} spacing={2.3} color="#333" heavy>
        Tasa L<sub style={smallSub}>u</sub>(683) / E<sub style={smallSub}>0</sub>(PAR)
      </Txt>
      <Key colors={RAMP_COLORS} labels={A_LABELS} rows={[121, 146, 171, 197, 222, 248, 273, 298]} x={511} w={37} h={16} textX={552} size={13} color="#888" spacing={1.1} wordSpacing={4} />

      <Txt x={523} y={366} size={18} spacing={1.8}>
        Clorofila-a µg l<sup style={smallSub}>-1</sup>
      </Txt>
      <Key colors={RAMP_COLORS} labels={B_LABELS} rows={[396, 426, 457, 487, 518, 549, 579, 610]} x={503} w={43} h={20} textX={553} size={16} color="#555" spacing={1.5} wordSpacing={6} />

      <Txt x={548} y={689} size={18} spacing={2.6}>Temperatura C</Txt>
      <Key colors={TEMP_COLORS} labels={TEMP_LABELS} rows={[722, 753, 784, 815, 845, 876, 907, 938]} x={537} w={42} h={20} textX={586} size={16} color="#444" spacing={1.5} wordSpacing={6} />
      <Txt x={538} y={968} size={14} spacing={1.6} color="#444">PRR-600</Txt>

      <Txt x={1187} y={61} size={18} spacing={2.5}>Temperatura C</Txt>
      <Key colors={TEMP_COLORS} labels={TEMP_LABELS} rows={[94, 125, 155, 186, 217, 247, 278, 309]} x={1182} w={43} h={20} textX={1232} size={16} color="#444" spacing={1.5} wordSpacing={6} />
      <Txt x={1181} y={340} size={14} spacing={2} color="#444">CTD</Txt>

      <Txt x={1245} y={377} size={18} spacing={1.8}>
        mg C m<sup style={smallSub}>-3</sup> h<sup style={smallSub}>-1</sup>
      </Txt>
      <Key colors={PROD_COLORS} labels={E_LABELS} rows={[411, 438, 466, 493, 521, 548, 575, 603]} x={1212} w={39} h={17} textX={1258} size={14} color="#888" spacing={1.6} wordSpacing={5} />

      <Txt x={1186} y={684} size={18} spacing={2}>
        sigma-t kg m<sup style={smallSub}>-3</sup>
      </Txt>
      <Key colors={SIGMA_COLORS} labels={F_LABELS} rows={[718, 748, 779, 810, 841, 871, 902, 933]} x={1151} w={44} h={20} textX={1202} size={16} color="#444" spacing={1.5} wordSpacing={6} />
    </div>
  );
}
